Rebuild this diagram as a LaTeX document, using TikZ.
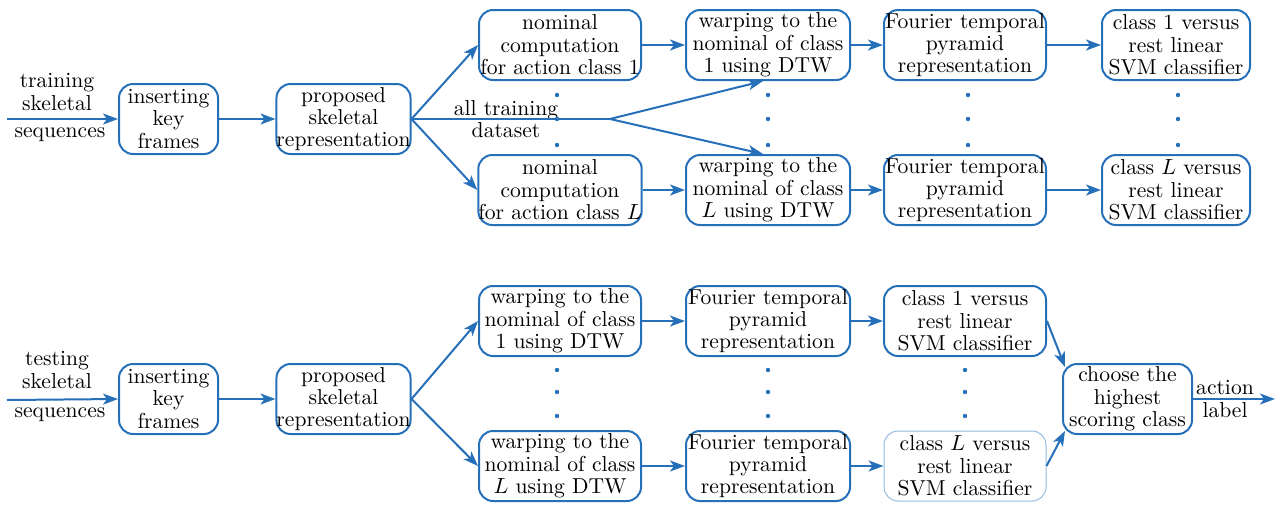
\documentclass[tikz,border=0pt]{standalone}
\usetikzlibrary{arrows.meta,calc}
\definecolor{bl}{RGB}{38,112,186}
\definecolor{lbl}{RGB}{150,188,228}
\begin{document}
\begin{tikzpicture}[x=0.5pt,y=-0.5pt,
  box/.style={draw=bl,line width=1pt,rounded corners=7pt,align=center,inner sep=0pt,
    minimum height=35pt,font=\fontsize{10.8}{11.2}\selectfont,fill=white},
  lightbox/.style={box,draw=lbl,line width=0.5pt},
  txt/.style={align=center,inner sep=0pt,font=\fontsize{10.8}{11.2}\selectfont},
  arr/.style={draw=bl,line width=1pt,-{Stealth[length=7.5pt,width=5.5pt,inset=2pt]}},
  ln/.style={draw=bl,line width=1pt},
  dot/.style={fill=bl}]
\useasboundingbox (0,0) rectangle (1281,505);

% ---------- top (training) ----------
\coordinate (in1) at (7,119);
\node[txt] (tl1) at (57,92) {training\\skeletal};
\node[txt] (tl2) at (60,135) {sequences};
\node[box,minimum width=49.5pt] (ins1) at (168.5,119) {inserting\\key\\frames};
\node[box,minimum width=67pt] (prop1) at (343.5,119) {proposed\\skeletal\\representation};
\node[box,minimum width=81pt] (nom1) at (560,45) {nominal\\computation\\for action class 1};
\node[box,minimum width=81pt] (nomL) at (560,190) {nominal\\computation\\for action class $L$};
\node[box,minimum width=82pt] (warp1) at (768,45) {warping to the\\nominal of class\\1 using DTW};
\node[box,minimum width=82pt] (warpL) at (768,190) {warping to the\\nominal of class\\$L$ using DTW};
\node[box,minimum width=81pt] (four1) at (965,45) {Fourier temporal\\pyramid\\representation};
\node[box,minimum width=81pt] (fourL) at (965,190) {Fourier temporal\\pyramid\\representation};
\node[box,minimum width=74pt] (cls1) at (1176,45) {class 1 versus\\rest linear\\SVM classifier};
\node[box,minimum width=74pt] (clsL) at (1176,190) {class $L$ versus\\rest linear\\SVM classifier};
\node[txt] (atd) at (506,119) {all training\\dataset};
\coordinate (split) at (610,119);

\draw[arr] (in1) -- (ins1.west);
\draw[arr] (ins1.east) -- (prop1.west);
\draw[arr] (prop1.east) -- (nom1.west);
\draw[arr] (prop1.east) -- (nomL.west);
\draw[ln] (prop1.east) -- (split);
\draw[arr] (split) -- ($(warp1.south)+(-5,0)$);
\draw[arr] (split) -- ($(warpL.north)+(-5,0)$);
\draw[arr] (nom1.east) -- (warp1.west);
\draw[arr] (warp1.east) -- (four1.west);
\draw[arr] (four1.east) -- (cls1.west);
\draw[arr] (nomL.east) -- (warpL.west);
\draw[arr] (warpL.east) -- (fourL.west);
\draw[arr] (fourL.east) -- (clsL.west);

\foreach \x in {557,768,968,1178}
  \foreach \y in {95,119,145}
    \fill[dot] (\x,\y) circle[radius=1.1pt];

% ---------- bottom (testing) ----------
\coordinate (in2) at (7,400);
\node[txt] (bl1) at (57,370) {testing\\skeletal};
\node[txt] (bl2) at (60,415) {sequences};
\node[box,minimum width=49.5pt] (ins2) at (168.5,399) {inserting\\key\\frames};
\node[box,minimum width=67pt] (prop2) at (343.5,399) {proposed\\skeletal\\representation};
\node[box,minimum width=81pt] (warp2a) at (560,321) {warping to the\\nominal of class\\1 using DTW};
\node[box,minimum width=81pt] (warp2L) at (560,466) {warping to the\\nominal of class\\$L$ using DTW};
\node[box,minimum width=82pt] (four2a) at (768,321) {Fourier temporal\\pyramid\\representation};
\node[box,minimum width=82pt] (four2L) at (768,466) {Fourier temporal\\pyramid\\representation};
\node[box,minimum width=81pt] (cls2a) at (965,321) {class 1 versus\\rest linear\\SVM classifier};
\node[lightbox,minimum width=81pt] (cls2L) at (965,466) {class $L$ versus\\rest linear\\SVM classifier};
\node[box,minimum width=64.5pt] (choose) at (1127.5,399) {choose the\\highest\\scoring class};
\node[txt] (al) at (1225,399) {action\\label};
\coordinate (out) at (1275,399);

\draw[arr] (in2) -- (ins2.west);
\draw[arr] (ins2.east) -- (prop2.west);
\draw[arr] (prop2.east) -- (warp2a.west);
\draw[arr] (prop2.east) -- (warp2L.west);
\draw[arr] (warp2a.east) -- (four2a.west);
\draw[arr] (four2a.east) -- (cls2a.west);
\draw[arr] (warp2L.east) -- (four2L.west);
\draw[arr] (four2L.east) -- (cls2L.west);
\draw[arr] (cls2a.east) -- ($(choose.north west)+(3,4)$);
\draw[arr] (cls2L.east) -- ($(choose.south west)+(3,-4)$);
\draw[arr] (choose.east) -- (out);

\foreach \x in {557,768,965}
  \foreach \y in {370,392,416}
    \fill[dot] (\x,\y) circle[radius=1.1pt];
\end{tikzpicture}
\end{document}
